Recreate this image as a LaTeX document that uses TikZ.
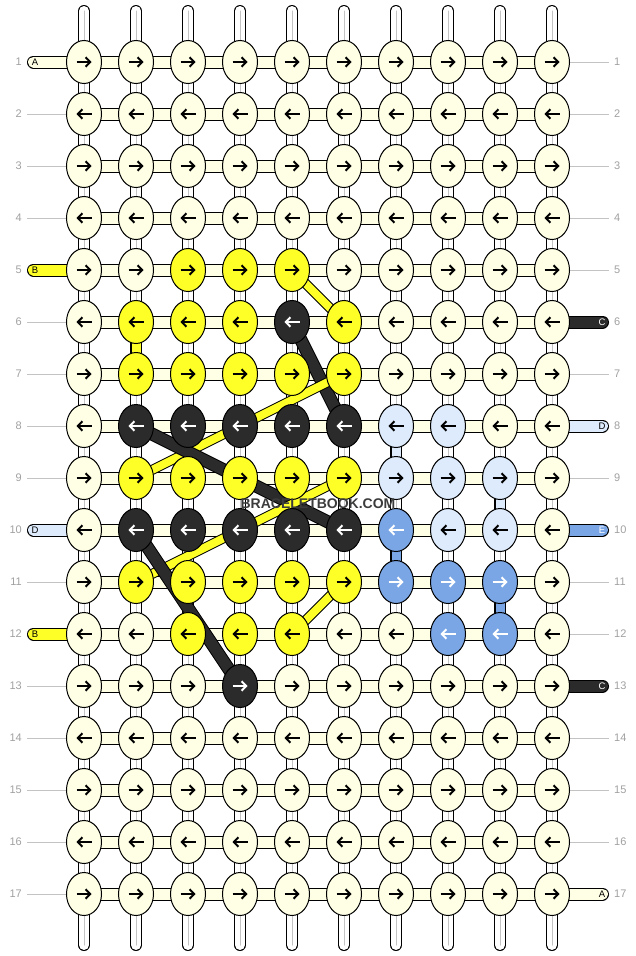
\documentclass[tikz,border=0pt]{standalone}
\usepackage{fontspec}
\setmainfont{Liberation Sans}
\usetikzlibrary{arrows.meta,shapes.geometric}
\definecolor{kC}{RGB}{255,255,230}
\definecolor{kY}{RGB}{255,255,40}
\definecolor{kK}{RGB}{43,43,43}
\definecolor{kL}{RGB}{221,235,252}
\definecolor{kB}{RGB}{122,166,230}
\colorlet{aC}{black}
\colorlet{aY}{black}
\colorlet{aK}{white}
\colorlet{aL}{black}
\colorlet{aB}{white}
\definecolor{labelGray}{RGB}{160,160,160}
\definecolor{lineGray}{RGB}{195,195,195}
\definecolor{markGray}{RGB}{60,60,60}

\begin{document}
\begin{tikzpicture}[x=1pt, y=-1pt]
    % Styles
    \tikzstyle{knot} = [ellipse, draw=black, line width=1pt, minimum width=35pt, minimum height=43pt, inner sep=0pt]
    \tikzstyle{knotarrow} = [line width=2pt, -{Straight Barb[length=4.5pt, width=9.5pt]}]
    \tikzstyle{tubeout} = [line width=12pt, black, line cap=round]
    \tikzstyle{tubein} = [line width=10pt, white, line cap=round]
    \tikzstyle{tubemid} = [line width=1pt, lineGray, line cap=round]
    \tikzstyle{bar} = [line width=1pt, draw=black, double distance=11pt]
    \tikzstyle{endbar} = [line width=1pt, draw=black, double distance=11pt, line cap=round]
    \tikzstyle{vlink} = [line width=1pt, draw=black, double distance=9pt]
    \tikzstyle{diag} = [line width=1pt, draw=black, double distance=8pt]
    \tikzstyle{darkdiag} = [line width=1pt, draw=black, double=kK, double distance=11pt]
    \tikzstyle{rownum} = [text=labelGray, font=\fontsize{11}{12}\selectfont, inner sep=0pt]
    \tikzstyle{endletter} = [font=\fontsize{9.5}{10}\selectfont, inner sep=0pt]
    \tikzstyle{guide} = [line width=1pt, lineGray]

    \useasboundingbox (0,0) rectangle (636,956);

    % Grid points
    \foreach \r in {1,...,17}
        \foreach \c in {1,...,10}
            \coordinate (p-\r-\c) at ({84+52*(\c-1)}, {62+52*(\r-1)});

    % Vertical strings
    \foreach \c in {1,...,10} {
        \coordinate (top-\c) at ({84+52*(\c-1)}, 11);
        \coordinate (bot-\c) at ({84+52*(\c-1)}, 945);
        \draw[tubeout] (top-\c) -- (bot-\c);
        \draw[tubein] (top-\c) -- (bot-\c);
        \draw[tubemid] (top-\c) -- (bot-\c);
    }

    % Rows, guides and numbers
    \foreach \r in {1,...,17} {
        \coordinate (lg-\r) at (27, {62+52*(\r-1)});
        \coordinate (rg-\r) at (609, {62+52*(\r-1)});
        \node[rownum, anchor=east] (ln-\r) at (22, {62+52*(\r-1)}) {\r};
        \node[rownum, anchor=west] (rn-\r) at (614, {62+52*(\r-1)}) {\r};
    }
    \foreach \r in {2,3,4,6,7,8,9,11,13,14,15,16,17}
        \draw[guide] (lg-\r) -- (p-\r-1);
    \foreach \r in {1,2,3,4,5,7,9,11,12,14,15,16}
        \draw[guide] (p-\r-10) -- (rg-\r);
    \foreach \r in {1,...,17}
        \draw[bar, double=kC] (p-\r-1) -- (p-\r-10);

    % Thread ends
    \foreach \r/\col/\lab/\tc in {1/kC/A/black, 5/kY/B/black, 10/kL/D/black, 12/kY/B/black} {
        \coordinate (le-\r) at (33.5, {62+52*(\r-1)});
        \draw[endbar, double=\col] (le-\r) -- (p-\r-1);
        \node[endletter, text=\tc] (lt-\r) at (35, {62+52*(\r-1)}) {\lab};
    }
    \foreach \r/\col/\lab/\tc in {6/kK/C/white, 8/kL/D/black, 10/kB/E/white, 13/kK/C/white, 17/kC/A/black} {
        \coordinate (re-\r) at (602.5, {62+52*(\r-1)});
        \draw[endbar, double=\col] (p-\r-10) -- (re-\r);
        \node[endletter, text=\tc] (rt-\r) at (602, {62+52*(\r-1)}) {\lab};
    }

    % Vertical links
    \draw[vlink, double=kY] (p-6-2) -- (p-7-2);
    \draw[vlink, double=kL] (p-8-7) -- (p-9-7);
    \draw[vlink, double=kL] (p-9-9) -- (p-10-9);
    \draw[vlink, double=kB] (p-10-7) -- (p-11-7);
    \draw[vlink, double=kB] (p-11-9) -- (p-12-9);

    % Carried threads
    \draw[diag, double=kY] (p-5-5) -- (p-6-6);
    \draw[darkdiag] (p-6-5) -- (p-8-6);
    \draw[diag, double=kY] (p-7-6) -- (p-9-2);
    \draw[darkdiag] (p-8-2) -- (p-10-6);
    \draw[diag, double=kY] (p-9-6) -- (p-11-2);
    \draw[darkdiag] (p-10-2) -- (p-13-4);
    \draw[diag, double=kY] (p-11-6) -- (p-12-5);

    % Knots
    \foreach \r/\cols in {
        1/{C,C,C,C,C,C,C,C,C,C},
        2/{C,C,C,C,C,C,C,C,C,C},
        3/{C,C,C,C,C,C,C,C,C,C},
        4/{C,C,C,C,C,C,C,C,C,C},
        5/{C,C,Y,Y,Y,C,C,C,C,C},
        6/{C,Y,Y,Y,K,Y,C,C,C,C},
        7/{C,Y,Y,Y,Y,Y,C,C,C,C},
        8/{C,K,K,K,K,K,L,L,C,C},
        9/{C,Y,Y,Y,Y,Y,L,L,L,C},
        10/{C,K,K,K,K,K,B,L,L,C},
        11/{C,Y,Y,Y,Y,Y,B,B,B,C},
        12/{C,C,Y,Y,Y,C,C,B,B,C},
        13/{C,C,C,K,C,C,C,C,C,C},
        14/{C,C,C,C,C,C,C,C,C,C},
        15/{C,C,C,C,C,C,C,C,C,C},
        16/{C,C,C,C,C,C,C,C,C,C},
        17/{C,C,C,C,C,C,C,C,C,C}} {
        \pgfmathsetmacro\dir{mod(\r,2)==1 ? 1 : -1}
        \foreach \k [count=\c] in \cols {
            \node[knot, fill=k\k] (k-\r-\c) at (p-\r-\c) {};
            \draw[knotarrow, draw=a\k] (k-\r-\c.center) ++({-7.5*\dir},0) -- ++({15*\dir},0);
        }
    }

    % Watermark
    \node[text=markGray, font=\bfseries\fontsize{14}{14}\selectfont, inner sep=0pt] (mark) at (318,504) {BRACELETBOOK.COM};
\end{tikzpicture}
\end{document}
